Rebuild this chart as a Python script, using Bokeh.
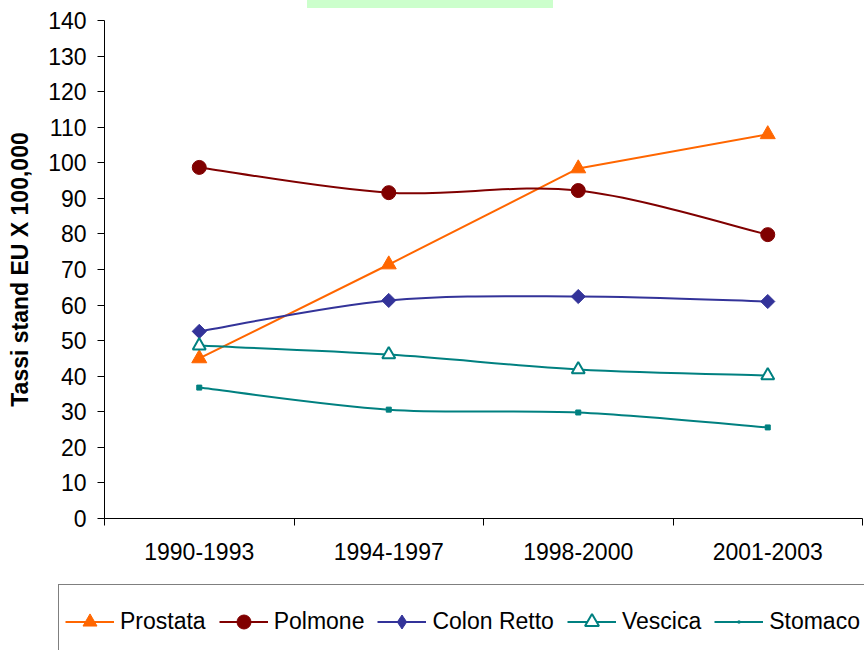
import math
from bokeh.plotting import figure
from bokeh.layouts import column
from bokeh.models import (Range1d, FixedTicker, Legend, LegendItem,
                          ColumnDataSource, Div)
from bokeh.embed import file_html
from bokeh.resources import INLINE

# ---- data ----
periods = ["1990-1993", "1994-1997", "1998-2000", "2001-2003"]
prostata = [45.0, 71.4, 98.4, 108.0]
polmone = [98.7, 91.6, 92.2, 79.8]
colon_retto = [52.6, 61.3, 62.4, 61.0]
vescica = [48.6, 46.1, 41.9, 40.2]
stomaco = [36.8, 30.6, 29.8, 25.6]
y_ticks = list(range(0, 141, 10))
y_label = "Tassi stand EU X 100,000"

FONT = "Liberation Sans"
FS = "23px"

xs = [i + 0.5 for i in range(len(periods))]

# top strip: the bottom edge of a (cut off) light-green title box
top = Div(text='<div style="margin-left:307px;width:246px;height:8px;'
               'background:#CCFFCC"></div>',
          width=864, height=8, margin=0,
          styles={"overflow": "hidden", "line-height": "0"})

p = figure(width=864, height=576, output_backend="svg", toolbar_location=None,
           x_range=Range1d(0, len(periods)), y_range=Range1d(0, 140),
           min_border_left=104, min_border_right=2, min_border_top=12,
           min_border_bottom=66)
p.frame_align = False
p.outline_line_color = None
p.xgrid.visible = False
p.ygrid.visible = False
p.background_fill_color = "white"
p.border_fill_color = "white"

# x axis: labels at centres, tick marks at category boundaries
xa = p.xaxis[0]
xa.ticker = FixedTicker(ticks=xs, minor_ticks=list(range(len(periods) + 1)))
xa.major_label_overrides = {x: lab for x, lab in zip(xs, periods)}
xa.major_tick_out = 0
xa.major_tick_in = 0
xa.minor_tick_out = 7
xa.minor_tick_in = 0
xa.minor_tick_line_color = "black"
xa.axis_line_color = "black"
xa.major_label_text_font = FONT
xa.major_label_text_font_size = FS
xa.major_label_text_color = "black"
xa.major_label_standoff = 17

ya = p.yaxis[0]
ya.ticker = FixedTicker(ticks=y_ticks)
ya.major_tick_out = 7
ya.major_tick_in = 0
ya.minor_tick_out = 0
ya.minor_tick_in = 0
ya.axis_line_color = "black"
ya.major_tick_line_color = "black"
ya.major_label_text_font = FONT
ya.major_label_text_font_size = FS
ya.major_label_text_color = "black"
ya.major_label_standoff = 11
ya.axis_label = y_label
ya.axis_label_text_font = FONT
ya.axis_label_text_font_size = FS
ya.axis_label_text_font_style = "bold"
ya.axis_label_text_color = "black"
ya.axis_label_standoff = 12


def smooth_source(x, y):
    n = len(x)
    d = dict(x0=[], y0=[], x1=[], y1=[], cx0=[], cy0=[], cx1=[], cy1=[])
    for i in range(n - 1):
        pi = max(i - 1, 0)
        ni = min(i + 2, n - 1)
        d["x0"].append(x[i]); d["y0"].append(y[i])
        d["x1"].append(x[i + 1]); d["y1"].append(y[i + 1])
        d["cx0"].append(x[i] + (x[i + 1] - x[pi]) / 6)
        d["cy0"].append(y[i] + (y[i + 1] - y[pi]) / 6)
        d["cx1"].append(x[i + 1] - (x[ni] - x[i]) / 6)
        d["cy1"].append(y[i + 1] - (y[ni] - y[i]) / 6)
    return ColumnDataSource(d)


# legend figure below the chart
lf = figure(width=864, height=66, output_backend="svg", toolbar_location=None,
            x_range=Range1d(0, 1), y_range=Range1d(0, 1),
            x_axis_type=None, y_axis_type=None,
            min_border_left=0, min_border_right=0, min_border_top=0,
            min_border_bottom=0)
lf.frame_align = False
lf.outline_line_color = None
lf.xgrid.visible = False
lf.ygrid.visible = False
lf.background_fill_color = "white"
lf.border_fill_color = "white"
OFF = [-10.0]  # dummy point outside the legend figure's view

items = []

# Prostata: straight line
c = "#FF6600"
p.line(xs, prostata, line_color=c, line_width=2)
p.scatter(xs, prostata, marker="triangle", size=15, fill_color=c, line_color=c)
lr = lf.line(OFF, OFF, line_color=c, line_width=2)
lm = lf.scatter(OFF, OFF, marker="triangle", size=15, fill_color=c, line_color=c)
items.append(LegendItem(label="Prostata", renderers=[lr, lm]))

series = [
    # name, values, colour, marker, size, fill, angle, legend marker
    ("Polmone", polmone, "#800000", "circle", 14, "#800000", 0.0, "circle"),
    ("Colon Retto", colon_retto, "#333399", "square", 10, "#333399", math.pi / 4, "diamond"),
    ("Vescica", vescica, "#008080", "triangle", 13, "white", 0.0, "triangle"),
    ("Stomaco", stomaco, "#008080", "square", 5, "#008080", 0.0, "dot"),
]
for name, vals, col, mk, sz, fill, ang, lmk in series:
    src = smooth_source(xs, vals)
    lw = 2 if fill == "white" else 1
    p.bezier(x0="x0", y0="y0", x1="x1", y1="y1", cx0="cx0", cy0="cy0",
             cx1="cx1", cy1="cy1", source=src, line_color=col, line_width=2)
    p.scatter(xs, vals, marker=mk, size=sz, angle=ang, fill_color=fill,
              line_color=col, line_width=lw)
    lr = lf.line(OFF, OFF, line_color=col, line_width=2)
    lm = lf.scatter(OFF, OFF, marker=lmk, size=sz, fill_color=fill,
                    line_color=col, line_width=lw)
    items.append(LegendItem(label=name, renderers=[lr, lm]))

legend = Legend(items=items, orientation="horizontal", location=(58, -8),
                glyph_width=49, glyph_height=35, label_height=60,
                label_standoff=6, spacing=13, padding=6, margin=0,
                label_text_font=FONT, label_text_font_size=FS,
                label_text_color="black",
                border_line_color="black", border_line_width=1,
                background_fill_color="white", background_fill_alpha=1)
lf.add_layout(legend, "center")

layout = column(top, p, lf, spacing=0)
open("out.html", "w").write(file_html(layout, INLINE))
